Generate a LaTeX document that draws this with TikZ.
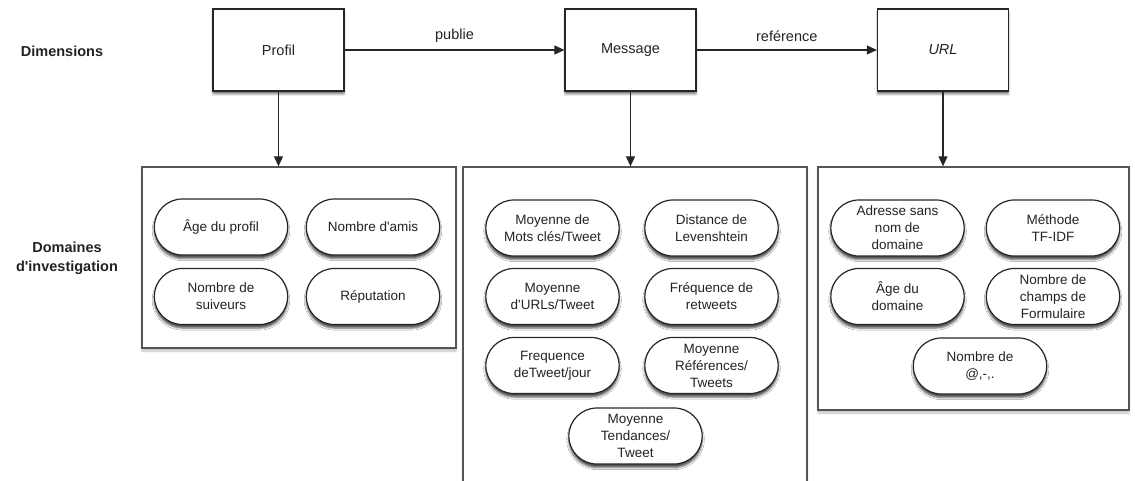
\documentclass[tikz,border=0pt]{standalone}
\usepackage{fontspec}
\setmainfont{Liberation Sans}
\usetikzlibrary{arrows.meta,positioning,shapes.misc,shadows.blur}
\definecolor{txtgray}{RGB}{35,35,35}
\definecolor{framegray}{RGB}{85,85,85}

\tikzset{
  dimbox/.style={draw=black!85, line width=1.2pt, fill=white,
    minimum width=131, minimum height=82, text=txtgray,
    font=\fontsize{14.5}{17}\selectfont,
    blur shadow={shadow xshift=0pt, shadow yshift=-3pt, shadow opacity=55}},
  domframe/.style={draw=framegray, line width=1.3pt, fill=white,
    blur shadow={shadow xshift=0pt, shadow yshift=-3pt, shadow opacity=25}},
  pill/.style={draw=black!85, line width=1.2pt, fill=white,
    rounded rectangle, minimum width=140, minimum height=56,
    text=txtgray, align=center, font=\fontsize{13.5}{17}\selectfont,
    blur shadow={shadow xshift=0pt, shadow yshift=-3.5pt, shadow opacity=70}},
  rowlabel/.style={font=\fontsize{14.5}{19}\selectfont\bfseries, text=txtgray, align=center},
  arr/.style={draw=black!85, line width=1.1pt, -{Triangle[length=10pt,width=9pt]}},
  rel/.style={font=\fontsize{14.5}{17}\selectfont, text=txtgray}
}

\begin{document}
\begin{tikzpicture}[x=1pt,y=-1pt]
\useasboundingbox (0,0) rectangle (1135,481);
\clip (0,0) rectangle (1135,481);

% Row labels
\node[rowlabel] (ldim) at (62,51) {Dimensions};
\node[rowlabel] (ldom) at (67,258) {Domaines\\d\textquotesingle investigation};

% Dimensions
\node[dimbox] (profil) at (278.5,50) {Profil};
\node[dimbox] (message) at (630.5,50) {Message};
\node[dimbox] (url) at (943,50) {\itshape URL};

% Domain frames
\node[domframe, minimum width=314, minimum height=181] (dprofil) at (299,257.5) {};
\node[domframe, minimum width=344, minimum height=320] (dmessage) at (635,327) {};
\node[domframe, minimum width=311, minimum height=243] (durl) at (973.5,288.5) {};

% Profil
\node[pill] (age) at (221,227) {Âge du profil};
\node[pill] (amis) at (373,227) {Nombre d\textquotesingle amis};
\node[pill] (suiv) at (221,296.5) {Nombre de\\suiveurs};
\node[pill] (rep) at (373,296.5) {Réputation};

% Message
\node[pill] (motscles) at (552.5,228) {Moyenne de\\Mots clés/Tweet};
\node[pill] (leven) at (711.5,228) {Distance de\\Levenshtein};
\node[pill] (urls) at (552.5,296.5) {Moyenne\\d\textquotesingle URLs/Tweet};
\node[pill] (retw) at (711.5,296.5) {Fréquence de\\retweets};
\node[pill] (freq) at (552.5,365.5) {Frequence\\deTweet/jour};
\node[pill] (refs) at (711.5,365.5) {Moyenne\\Références/\\Tweets};
\node[pill] (tend) at (635.5,436) {Moyenne\\Tendances/\\Tweet};

% URL
\node[pill] (adr) at (897.5,228) {Adresse sans\\nom de\\domaine};
\node[pill] (tfidf) at (1053,228) {Méthode\\TF-IDF};
\node[pill] (agedom) at (897.5,296.5) {Âge du\\domaine};
\node[pill] (champs) at (1053,296.5) {Nombre de\\champs de\\Formulaire};
\node[pill] (arob) at (980,366) {Nombre de\\@,-,.};

% Connectors
\draw[arr] (profil) -- node[rel, above=4pt] (publie) {publie} (message);
\draw[arr] (message) -- node[rel, above=4pt] (refer) {reférence} (url);
\draw[arr] (profil.south) -- (profil.south |- dprofil.north);
\draw[arr] (message.south) -- (message.south |- dmessage.north);
\draw[arr] (url.south) -- (url.south |- durl.north);
\end{tikzpicture}
\end{document}
